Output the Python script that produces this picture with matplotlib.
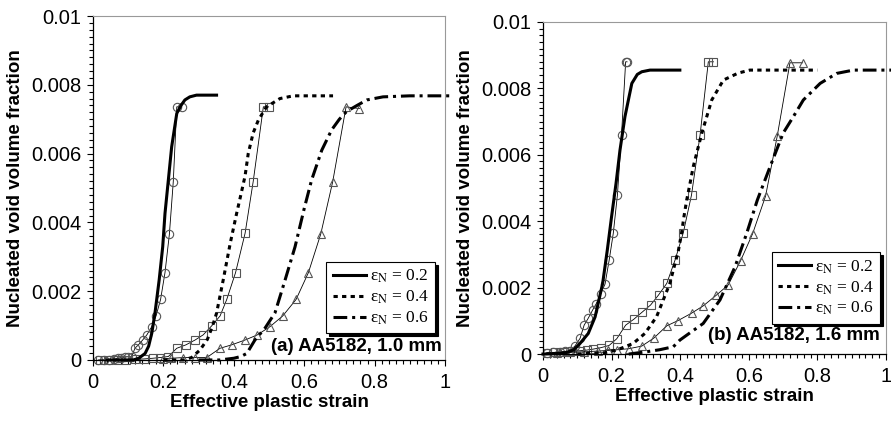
import matplotlib
matplotlib.use('Agg')
import matplotlib.pyplot as plt
from matplotlib.ticker import MultipleLocator, FixedLocator, FixedFormatter

plt.rcParams['font.family'] = ['Liberation Sans', 'DejaVu Sans']
plt.rcParams['mathtext.fontset'] = 'stix'

x_ticks = [0, 0.2, 0.4, 0.6, 0.8, 1.0]
x_tick_labels = ['0', '0.2', '0.4', '0.6', '0.8', '1']
y_ticks = [0, 0.002, 0.004, 0.006, 0.008, 0.01]
y_tick_labels = ['0', '0.002', '0.004', '0.006', '0.008', '0.01']
legend_labels = ['ε$_{\\mathrm{N}}$ = 0.2',
                 'ε$_{\\mathrm{N}}$ = 0.4',
                 'ε$_{\\mathrm{N}}$ = 0.6']

# (a) AA5182, 1.0 mm -- measured points
a_circ_x = [0.015, 0.03, 0.045, 0.06, 0.07, 0.08, 0.09, 0.10, 0.11, 0.119, 0.129,
            0.141, 0.153, 0.167, 0.179, 0.192, 0.2045, 0.217, 0.228, 0.238, 0.252]
a_circ_y = [0, 0, 0, 0.00002, 0.00005, 0.00007, 0.00008, 0.0001, 0.0001, 0.00034, 0.00044,
            0.00058, 0.00073, 0.00097, 0.00128, 0.00176, 0.00254, 0.00366, 0.00518, 0.00736, 0.00736]
a_sq_x = [0.02, 0.045, 0.07, 0.095, 0.12, 0.145, 0.17, 0.19, 0.214, 0.238, 0.264,
          0.29, 0.313, 0.337, 0.361, 0.38, 0.405, 0.432, 0.455, 0.484, 0.499]
a_sq_y = [0, 0, 0, 0, 0.00002, 0.00003, 0.00005, 0.00007, 0.0001, 0.00034, 0.00044,
          0.00058, 0.00073, 0.00099, 0.00128, 0.00176, 0.00254, 0.00368, 0.00518, 0.00736, 0.00736]
a_tri_x = [0.20, 0.222, 0.257, 0.29, 0.323, 0.361, 0.394, 0.432, 0.467, 0.503, 0.539,
           0.577, 0.612, 0.647, 0.681, 0.719, 0.757]
a_tri_y = [0.00004, 0.00005, 0.00007, 0.00007, 0.00007, 0.00034, 0.00044, 0.00058, 0.00073, 0.00097, 0.00128,
           0.00176, 0.00254, 0.00366, 0.00518, 0.00736, 0.00731]

# (a) model curves
a_solid_x = [0.04, 0.10, 0.114, 0.13, 0.148, 0.158, 0.167, 0.176, 0.188, 0.198, 0.2045,
             0.214, 0.2235, 0.238, 0.25, 0.261, 0.275, 0.294, 0.351]
a_solid_y = [0, 0, 0, 0.00005, 0.00019, 0.0004, 0.00078, 0.00136, 0.00233, 0.00329, 0.00426,
             0.00523, 0.0062, 0.00717, 0.0074, 0.00756, 0.00765, 0.0077, 0.0077]
a_dot_x = [0.20, 0.257, 0.28, 0.304, 0.325, 0.34, 0.351, 0.37, 0.39, 0.408, 0.42,
           0.432, 0.441, 0.455, 0.47, 0.493, 0.531, 0.569, 0.682]
a_dot_y = [0, 0, 0.00007, 0.00029, 0.0006, 0.001, 0.00136, 0.00233, 0.0034, 0.00426, 0.0048,
           0.00535, 0.006, 0.0066, 0.00698, 0.00736, 0.0076, 0.00768, 0.00768]
a_dd_x = [0.30, 0.36, 0.40, 0.42, 0.437, 0.46, 0.489, 0.517, 0.545, 0.574, 0.60,
          0.621, 0.65, 0.678, 0.70, 0.72, 0.75, 0.778, 0.824, 0.90, 1.02]
a_dd_y = [0, 0, 0.00005, 0.0001, 0.00019, 0.00058, 0.00093, 0.00137, 0.0023, 0.00329, 0.0044,
          0.00523, 0.0061, 0.00669, 0.007, 0.00722, 0.0074, 0.00756, 0.00765, 0.00768, 0.00768]

# (b) AA5182, 1.6 mm -- measured points
b_circ_x = [0.011, 0.03, 0.049, 0.064, 0.079, 0.093, 0.108, 0.12, 0.132, 0.145,
            0.155, 0.168, 0.181, 0.193, 0.205, 0.217, 0.229, 0.241, 0.245]
b_circ_y = [0.00004, 0.00005, 0.00006, 0.00008, 0.0001, 0.00024, 0.00047, 0.00087, 0.00108, 0.00133,
            0.00151, 0.00181, 0.00211, 0.00283, 0.00364, 0.00479, 0.0066, 0.0088, 0.0088]
b_sq_x = [0.012, 0.036, 0.06, 0.084, 0.108, 0.128, 0.147, 0.168, 0.193, 0.215, 0.241,
          0.265, 0.29, 0.314, 0.337, 0.361, 0.385, 0.409, 0.433, 0.458, 0.482, 0.497]
b_sq_y = [0.00003, 0.00005, 0.00006, 0.00008, 0.0001, 0.00012, 0.00015, 0.00019, 0.00026, 0.00046, 0.00087,
          0.00105, 0.00127, 0.00148, 0.00178, 0.00213, 0.00283, 0.00365, 0.00479, 0.0066, 0.0088, 0.0088]
b_tri_x = [0.04, 0.08, 0.12, 0.16, 0.19, 0.216, 0.25, 0.288, 0.323, 0.361, 0.394,
           0.433, 0.467, 0.505, 0.54, 0.576, 0.611, 0.649, 0.683, 0.72, 0.757]
b_tri_y = [0.00003, 0.00005, 0.00007, 0.00009, 0.00011, 0.00013, 0.00016, 0.00024, 0.00048, 0.00085, 0.00101,
           0.00123, 0.00145, 0.00177, 0.00208, 0.00281, 0.00362, 0.00476, 0.00657, 0.00877, 0.00877]

# (b) model curves
b_solid_x = [0.0, 0.05, 0.07, 0.09, 0.108, 0.132, 0.152, 0.174, 0.1875, 0.2,
             0.213, 0.2245, 0.239, 0.259, 0.275, 0.288, 0.312, 0.399]
b_solid_y = [0, 0.00002, 0.00005, 0.00013, 0.00032, 0.00062, 0.00112, 0.00213, 0.00313, 0.00414,
             0.00514, 0.00614, 0.00715, 0.00815, 0.00842, 0.0085, 0.00855, 0.00855]
b_dot_x = [0.10, 0.18, 0.215, 0.263, 0.297, 0.331, 0.37, 0.395, 0.404, 0.411, 0.419,
           0.428, 0.438, 0.463, 0.492, 0.526, 0.569, 0.603, 0.80]
b_dot_y = [0, 0.00004, 0.00012, 0.00032, 0.00062, 0.00112, 0.00213, 0.00313, 0.00364, 0.00414, 0.00464,
           0.0051, 0.00564, 0.00665, 0.00765, 0.00825, 0.00846, 0.00855, 0.00855]
b_dd_x = [0.25, 0.302, 0.34, 0.38, 0.399, 0.43, 0.467, 0.516, 0.56, 0.594, 0.625,
          0.662, 0.70, 0.73, 0.759, 0.808, 0.856, 0.905, 1.02]
b_dd_y = [0, 0.00007, 0.00013, 0.00022, 0.00042, 0.00065, 0.00092, 0.00163, 0.00263, 0.00364, 0.00464,
          0.00564, 0.00665, 0.00715, 0.00765, 0.00815, 0.00845, 0.00855, 0.00855]


def draw_panel(ax, measured, model, title, legend_corner, title_pos):
    """
    Draw one panel: measured points with thin lines and three model curves.
    :param measured: list of (x, y, marker) tuples
    :param model: list of (x, y) tuples for eps_N = 0.2, 0.4, 0.6
    """
    for x, y, m in measured:
        ax.plot(x, y, color='black', lw=0.6, marker=m, ms=6, mfc='none',
                mec='#555555', mew=0.8, clip_on=False, zorder=2)

    styles = ['-', (0, (1.4, 1.4)), (0, (4.5, 1.6, 1.0, 1.6))]
    lines = []
    for (x, y), ls in zip(model, styles):
        ln, = ax.plot(x, y, color='black', lw=2.2, ls=ls, clip_on=False, zorder=3)
        lines.append(ln)

    ax.set_xlim(0, 1)
    ax.set_ylim(0, 0.01)
    ax.xaxis.set_major_locator(FixedLocator(x_ticks))
    ax.xaxis.set_major_formatter(FixedFormatter(x_tick_labels))
    ax.yaxis.set_major_locator(FixedLocator(y_ticks))
    ax.yaxis.set_major_formatter(FixedFormatter(y_tick_labels))
    ax.xaxis.set_minor_locator(MultipleLocator(0.02))
    ax.yaxis.set_minor_locator(MultipleLocator(0.0002))
    ax.tick_params(which='both', direction='out', top=False, right=False,
                   width=0.8, labelsize=14.5)
    ax.tick_params(which='major', length=4.5)
    ax.tick_params(which='minor', length=3)
    ax.tick_params(axis='x', which='major', pad=5)
    ax.tick_params(axis='y', which='major', pad=4)
    for side in ['top', 'right']:
        ax.spines[side].set_color('#999999')
        ax.spines[side].set_linewidth(0.8)
    for side in ['left', 'bottom']:
        ax.spines[side].set_linewidth(0.9)

    ax.set_xlabel('Effective plastic strain', fontsize=13.5, fontweight='bold', labelpad=1)
    ax.set_ylabel('Nucleated void volume fraction', fontsize=13.5, fontweight='bold', labelpad=5)

    leg = ax.legend(lines, legend_labels, loc='lower right', bbox_to_anchor=legend_corner,
                    prop={'family': 'Liberation Serif', 'size': 12.5},
                    frameon=True, fancybox=False, edgecolor='black', framealpha=1,
                    shadow={'color': 'black', 'alpha': 1.0, 'ox': 2, 'oy': -2},
                    handlelength=1.9, handletextpad=0.25, borderpad=0.35,
                    labelspacing=0.2, borderaxespad=0)
    leg.get_frame().set_linewidth(0.8)

    ax.text(title_pos[0], title_pos[1], title, transform=ax.transAxes,
            ha='right', va='bottom', fontsize=13.5, fontweight='bold')


fig = plt.figure(figsize=(8.91, 4.22), dpi=100)
ax_a = fig.add_axes([0.1044, 0.147, 0.395, 0.815])
ax_b = fig.add_axes([0.6094, 0.161, 0.385, 0.787])

draw_panel(ax_a,
           [(a_circ_x, a_circ_y, 'o'), (a_sq_x, a_sq_y, 's'), (a_tri_x, a_tri_y, '^')],
           [(a_solid_x, a_solid_y), (a_dot_x, a_dot_y), (a_dd_x, a_dd_y)],
           '(a) AA5182, 1.0 mm', (0.972, 0.078), (0.99, 0.015))
draw_panel(ax_b,
           [(b_circ_x, b_circ_y, 'o'), (b_sq_x, b_sq_y, 's'), (b_tri_x, b_tri_y, '^')],
           [(b_solid_x, b_solid_y), (b_dot_x, b_dot_y), (b_dd_x, b_dd_y)],
           '(b) AA5182, 1.6 mm', (0.983, 0.092), (0.982, 0.03))

fig.savefig('out.png', dpi=100)
